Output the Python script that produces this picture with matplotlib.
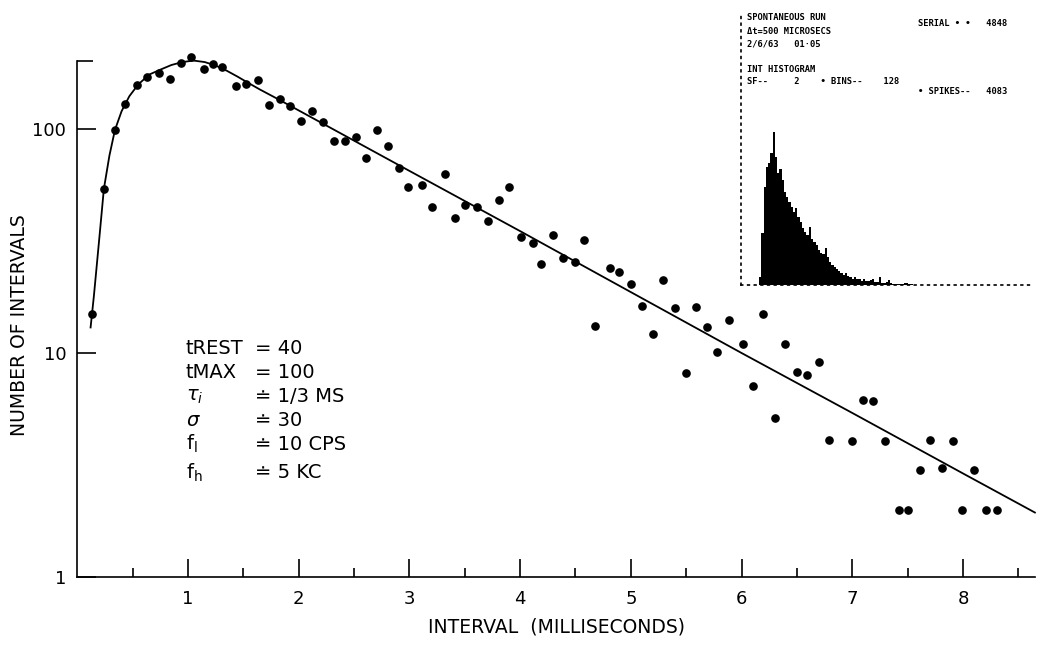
import matplotlib
matplotlib.use("Agg")
import matplotlib.pyplot as plt
import numpy as np

# interval histogram points (ms, count)
interval_ms = [0.13, 0.24, 0.34, 0.43, 0.54, 0.63, 0.74, 0.84, 0.94, 1.03,
               1.14, 1.23, 1.31, 1.43, 1.52, 1.63, 1.73, 1.83, 1.92, 2.02,
               2.12, 2.22, 2.32, 2.42, 2.52, 2.61, 2.71, 2.81, 2.91, 2.99,
               3.11, 3.20, 3.32, 3.41, 3.50, 3.61, 3.71, 3.81, 3.90, 4.01,
               4.12, 4.19, 4.30, 4.39, 4.50, 4.58, 4.68, 4.81, 4.89, 5.00,
               5.10, 5.20, 5.29, 5.40, 5.50, 5.59, 5.69, 5.78, 5.89, 6.01,
               6.10, 6.19, 6.30, 6.39, 6.50, 6.59, 6.70, 6.79, 7.00, 7.10,
               7.19, 7.30, 7.42, 7.50, 7.61, 7.70, 7.81, 7.91, 7.99, 8.10,
               8.21, 8.31]
counts = [15, 54, 99, 129, 157, 171, 177, 167, 198, 209,
          186, 195, 189, 156, 158, 165, 128, 136, 127, 109,
          120, 107, 88, 88, 92, 74, 99, 84, 67, 55,
          56, 45, 63, 40, 46, 45, 39, 48, 55, 33,
          31, 25, 33.5, 26.6, 25.6, 32, 13.2, 24, 23, 20.3,
          16.2, 12.1, 21.2, 15.9, 8.1, 16, 13.1, 10.1, 14, 11,
          7.1, 15, 5.1, 11, 8.2, 8.0, 9.1, 4.1, 4.06, 6.15,
          6.1, 4.06, 2.0, 2.0, 3.0, 4.07, 3.07, 4.05, 2.0, 3.0,
          2.0, 2.0]

# theoretical curve
curve_x = [0.12, 0.15, 0.20, 0.24, 0.29, 0.34, 0.40, 0.47, 0.55, 0.65,
           0.75, 0.85, 0.95, 1.05, 1.15, 1.25, 1.35, 1.45, 1.55, 1.65,
           1.80, 2.0, 3.0, 4.0, 5.0, 6.0, 7.0, 8.0, 8.65]
curve_y = [13, 18, 33, 54, 76, 99, 120, 140, 158, 175,
           184, 193, 199, 202, 199, 192, 182, 171, 160, 150,
           137, 121, 65, 35, 18.7, 10, 5.4, 2.9, 1.94]

x_ticks = [1, 2, 3, 4, 5, 6, 7, 8]
x_minor = [0.5, 1.5, 2.5, 3.5, 4.5, 5.5, 6.5, 7.5, 8.5]
y_ticks = [1, 10, 100]
y_ticklabels = ["1", "10", "100"]

params = ["tREST", "tMAX", r"$\tau_i$", r"$\sigma$", r"f$_\mathrm{l}$", r"f$_\mathrm{h}$"]
param_values = ["= 40", "= 100", "\u2250 1/3 MS", "\u2250 30", "\u2250 10 CPS", "\u2250 5 KC"]

# inset: scope interval histogram (bin index, relative height)
hist_first_bin = 8
hist_counts = [8, 52, 98, 118, 122, 132, 153, 128, 112, 116,
               105, 93, 88, 83, 78, 73, 77, 68, 63, 57,
               53, 50, 58, 46, 43, 40, 35, 32, 31, 37,
               28, 23, 20, 18, 16, 14, 12, 10, 12, 9,
               8, 6, 8, 6, 6, 4, 6, 4, 4, 5,
               6, 3, 3, 8, 2, 2, 3, 5, 2, 1,
               1, 1, 1, 1, 2, 2, 1, 1]
inset_lines = [
    (747, 17, "SPONTANEOUS RUN"),
    (747, 31, "\u0394t=500 MICROSECS"),
    (747, 44, "2/6/63   01\u00b705"),
    (747, 69, "INT HISTOGRAM"),
    (747, 81, "SF--     2    \u2022 BINS--    128"),
    (918, 23, "SERIAL \u2022 \u2022   4848"),
    (918, 92, "\u2022 SPIKES--   4083"),
]

W, H = 1037, 645


def px(x, y):
    return x / W, (H - y) / H


plt.rcParams["font.family"] = "DejaVu Sans"
fig = plt.figure(figsize=(W / 100, H / 100), dpi=100)

# main axes: x=0 at px 77, x=8.65 at px 1035; y=1 at px 577, one decade = 224 px
ax = fig.add_axes([77.3 / W, (H - 577) / H, 957.6 / W, 554.9 / H])
ax.set_yscale("log")
ax.set_xlim(0, 8.65)
ax.set_ylim(1, 300)

ax.plot(curve_x, curve_y, color="black", lw=1.3, zorder=2, clip_on=False)
ax.plot(interval_ms, counts, "o", color="black", ms=5.2, zorder=3, clip_on=False)

for s in ["top", "right"]:
    ax.spines[s].set_visible(False)
ax.spines["left"].set_bounds(1, 202)
for s in ["left", "bottom"]:
    ax.spines[s].set_linewidth(1.2)

ax.set_xticks(x_ticks)
ax.set_xticklabels([str(t) for t in x_ticks])
ax.set_xticks(x_minor, minor=True)
ax.set_yticks(y_ticks)
ax.set_yticklabels(y_ticklabels)
ax.yaxis.set_minor_locator(matplotlib.ticker.FixedLocator([202]))
ax.yaxis.set_minor_formatter(matplotlib.ticker.NullFormatter())

ax.tick_params(axis="x", which="major", direction="in", length=13, width=1.2,
               labelsize=13, pad=9)
ax.tick_params(axis="x", which="minor", direction="in", length=6.5, width=1.2)
ax.tick_params(axis="y", which="major", direction="in", length=14, width=1.2,
               labelsize=13, pad=8)
ax.tick_params(axis="y", which="minor", direction="in", length=11.5, width=1.2)

fig.text(*px(556, 627), "INTERVAL  (MILLISECONDS)", fontsize=13.5,
         ha="center", va="center")
fig.text(*px(20, 325), "NUMBER OF INTERVALS", fontsize=13.5, rotation=90,
         ha="center", va="center")

row_y = [349, 372, 397, 420, 444, 473]
for name, val, yy in zip(params, param_values, row_y):
    fig.text(*px(186, yy), name, fontsize=14, ha="left", va="center")
    fig.text(*px(255, yy), val, fontsize=14, ha="left", va="center")

# inset histogram
ins = fig.add_axes([741 / W, (H - 285) / H, 289 / W, 280 / H])
edges = np.arange(hist_first_bin, hist_first_bin + len(hist_counts) + 1)
ins.stairs(hist_counts, edges, fill=True, color="black")
ins.set_xlim(0, 128)
ins.set_ylim(0, 280)
ins.set_xticks([])
ins.set_yticks([])
for s in ["top", "right"]:
    ins.spines[s].set_visible(False)
for s in ["left", "bottom"]:
    ins.spines[s].set_linestyle((0, (1, 3)))
    ins.spines[s].set_linewidth(1.2)
ins.spines["left"].set_bounds(0, 272)
ins.patch.set_alpha(0)

for xx, yy, txt in inset_lines:
    fig.text(*px(xx, yy), txt, fontsize=6.3, family="DejaVu Sans Mono",
             weight="bold", ha="left", va="center")

fig.savefig("out.png", dpi=100)
